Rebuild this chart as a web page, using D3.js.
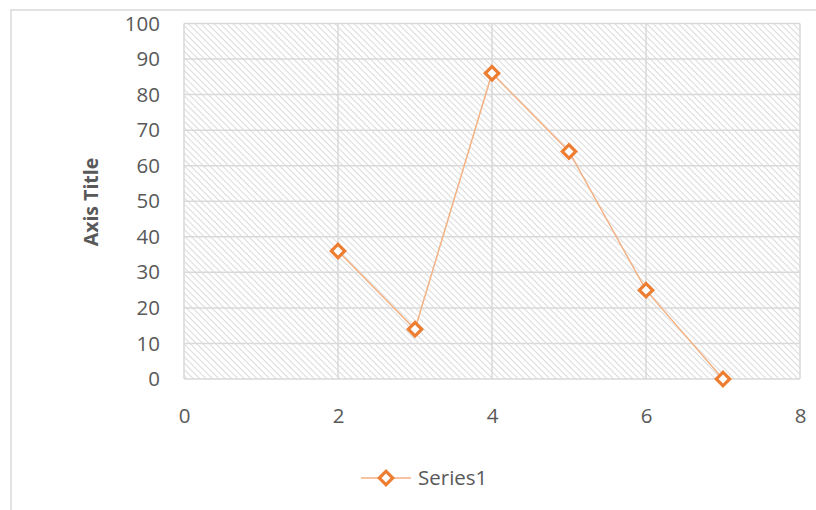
<!DOCTYPE html>
<html><head><meta charset="utf-8">
<script src="https://cdn.jsdelivr.net/npm/d3@7"></script>
<style>body{margin:0;background:#fff}</style>
</head><body>
<script>
const xValues = [2, 3, 4, 5, 6, 7];
const yValues = [36, 14, 86, 64, 25, 0];
const xTicks = [0, 2, 4, 6, 8];
const yTicks = [0, 10, 20, 30, 40, 50, 60, 70, 80, 90, 100];
const seriesName = "Series1";
const yTitle = "Axis Title";

const W = 816, H = 510;
const svg = d3.select("body").append("svg").attr("width", W).attr("height", H);
const font = "'Open Sans', 'Noto Sans', sans-serif";

const defs = svg.append("defs");
const pat = defs.append("pattern").attr("id","hatch").attr("patternUnits","userSpaceOnUse")
  .attr("width",4.5).attr("height",4.5).attr("patternTransform","rotate(45)");
pat.append("rect").attr("width",4.5).attr("height",4.5).attr("fill","#ffffff");
pat.append("line").attr("x1",0).attr("y1",0).attr("x2",4.5).attr("y2",0)
  .attr("stroke","#dadada").attr("stroke-width",2);

// chart border
svg.append("rect").attr("x",11).attr("y",10).attr("width",W).attr("height",H)
  .attr("fill","#fff").attr("stroke","#d9d9d9").attr("stroke-width",1.5);

const x = d3.scaleLinear().domain([0,8]).range([184,800]);
const y = d3.scaleLinear().domain([0,100]).range([379,23.5]);

svg.append("rect").attr("x",x(0)).attr("y",y(100)).attr("width",x(8)-x(0)).attr("height",y(0)-y(100))
  .attr("fill","url(#hatch)");

// grid
svg.append("g").selectAll("line").data(yTicks).join("line")
  .attr("x1",x(0)).attr("x2",x(8)).attr("y1",d=>y(d)).attr("y2",d=>y(d))
  .attr("stroke","#d9d9d9").attr("stroke-width",1.5);
svg.append("g").selectAll("line").data(xTicks).join("line")
  .attr("y1",y(0)).attr("y2",y(100)).attr("x1",d=>x(d)).attr("x2",d=>x(d))
  .attr("stroke","#d9d9d9").attr("stroke-width",1.5);

// axes labels via d3 axes
const yAxis = svg.append("g").attr("transform",`translate(${x(0)},0)`)
  .call(d3.axisLeft(y).tickValues(yTicks).tickSize(0).tickPadding(24));
const xAxis = svg.append("g").attr("transform",`translate(0,${y(0)})`)
  .call(d3.axisBottom(x).tickValues(xTicks).tickSize(0).tickPadding(29));
[yAxis,xAxis].forEach(a=>{
  a.select(".domain").remove();
  a.selectAll("text").attr("font-family",font).attr("font-size",20.5).attr("fill","#595959");
});

svg.append("text").attr("transform",`translate(98,202) rotate(-90)`)
  .attr("text-anchor","middle").attr("font-family",font).attr("font-size",19.5)
  .attr("font-weight","bold").attr("fill","#595959").text(yTitle);

const data = xValues.map((v,i)=>({x:v,y:yValues[i]}));
svg.append("path").datum(data)
  .attr("d", d3.line().x(d=>x(d.x)).y(d=>y(d.y)))
  .attr("fill","none").attr("stroke","#F4B183").attr("stroke-width",1.5);

const diamond = d3.symbol().type(d3.symbolSquare).size(90);
svg.append("g").selectAll("path").data(data).join("path")
  .attr("d", diamond)
  .attr("transform", d=>`translate(${x(d.x)},${y(d.y)}) rotate(45)`)
  .attr("fill","#fff").attr("stroke","#ED7D31").attr("stroke-width",3.2);

// legend
const lg = svg.append("g");
lg.append("line").attr("x1",361).attr("x2",411).attr("y1",478).attr("y2",478)
  .attr("stroke","#F4B183").attr("stroke-width",1.5);
lg.append("path").attr("d",diamond).attr("transform","translate(386,478) rotate(45)")
  .attr("fill","#fff").attr("stroke","#ED7D31").attr("stroke-width",3.2);
lg.append("text").attr("x",418).attr("y",478).attr("dy","0.35em")
  .attr("font-family",font).attr("font-size",20.5).attr("fill","#595959").text(seriesName);
</script>
</body></html>
